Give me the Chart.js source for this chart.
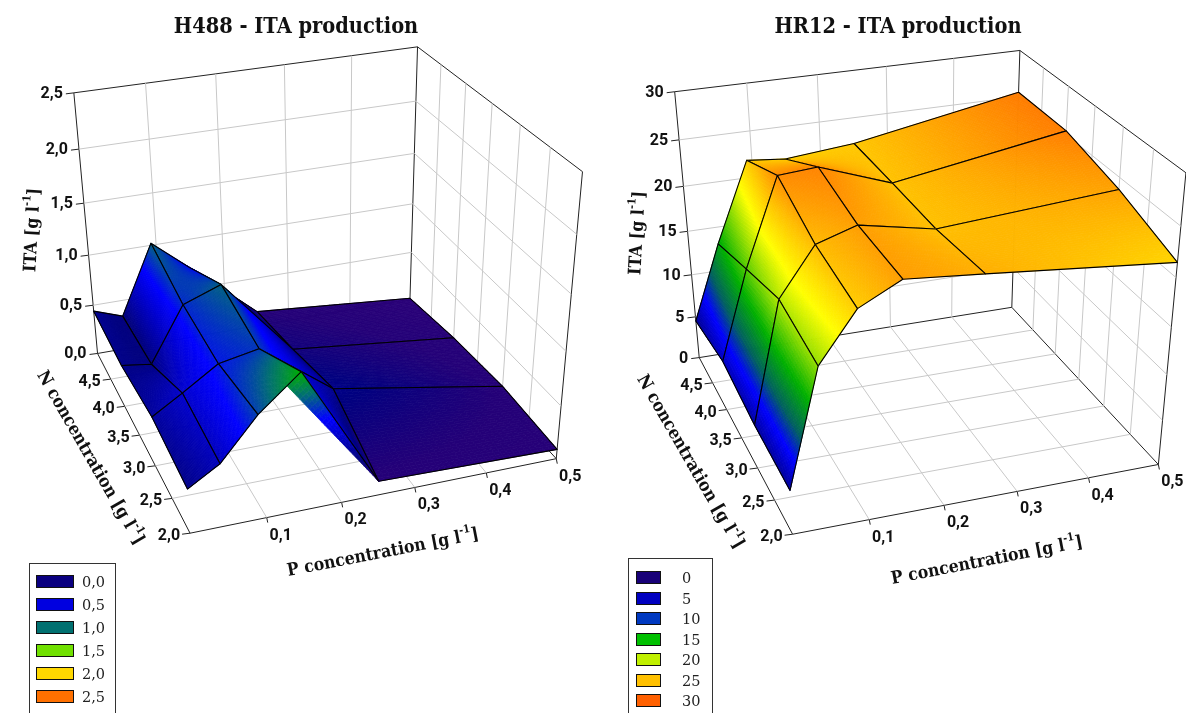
<!DOCTYPE html>
<html>
<head>
<meta charset="utf-8">
<title>ITA production</title>
<script src="https://cdn.jsdelivr.net/npm/chart.js@4"></script>
<style>
  html, body { margin: 0; background: #fff; overflow: hidden; }
  #page { position: relative; width: 1186px; height: 713px; overflow: hidden; }
  canvas { position: absolute; top: 0; }
  .legend { position: absolute; box-sizing: border-box; border: 1px solid #333; border-bottom: none; bottom: 0;
            font: 14.5px "DejaVu Serif", serif; color: #222; }
  .legend i { position: absolute; box-sizing: border-box; border: 1px solid #111; }
  .legend span { position: absolute; line-height: 16px; }
</style>
</head>
<body>
<div id="page">
  <canvas id="chartH488" width="592" height="713" style="left:0"></canvas>
  <canvas id="chartHR12" width="576" height="713" style="left:610px"></canvas>
</div>
<script>
// grid of the measured surface
const pValues = [0, 0.0425, 0.0925, 0.148, 0.25, 0.5];
const nValues = [2, 3, 4, 5];

// ITA, one row per N value
const h488N2 = [0.41, 0.58, 0.95, 1.25, 0.13, 0.09];
const h488N3 = [0.47, 0.64, 0.85, 0.92, 0.42, 0.13];
const h488N4 = [0.41, 0.37, 0.89, 1.02, 0.27, 0.09];
const h488N5 = [0.44, 0.34, 1.02, 0.72, 0.15, 0.01];

const hr12N2 = [4.8, 17.0, 21.9, 24.0, 23.3, 21.5];
const hr12N3 = [4.9, 17.8, 22.7, 24.0, 22.5, 23.8];
const hr12N4 = [5.7, 15.5, 24.8, 25.1, 22.4, 25.4];
const hr12N5 = [4.5, 13.1, 21.9, 21.5, 22.2, 25.5];

// thin fold under the H488 ridge, in the N = 2 plane
const h488FoldP = [0.13, 0.148, 0.25];
const h488FoldZ = [1.15, 1.25, 0.13];

// axis ticks
const pTicks = [0.1, 0.2, 0.3, 0.4, 0.5];
const nTicks = [2, 2.5, 3, 3.5, 4, 4.5];
const zTicksH488 = [0, 0.5, 1, 1.5, 2, 2.5];
const zTicksHR12 = [0, 5, 10, 15, 20, 25, 30];

// legends
const legendH488Labels = ['0,0', '0,5', '1,0', '1,5', '2,0', '2,5'];
const legendH488Colors = ['#0a0080', '#0000e0', '#007070', '#70e000', '#ffd800', '#ff7000'];
const legendHR12Labels = ['0', '5', '10', '15', '20', '25', '30'];
const legendHR12Colors = ['#180078', '#0000c0', '#0038c0', '#00c000', '#c0f000', '#ffc000', '#ff6000'];

// colour ramp of the surface
const rampH488Z = [0, 0.15, 0.38, 0.8, 1.05, 1.25, 1.5, 2, 2.5];
const rampH488C = ['#2a0078', '#240078', '#000080', '#0000ff', '#007070', '#00b000', '#70e000', '#ffd800', '#ff7000'];
const rampHR12Z = [0, 4, 7.5, 10, 13.5, 19.5, 22.5, 26, 30];
const rampHR12C = ['#180078', '#000080', '#0000ff', '#006060', '#00b000', '#ffff00', '#ffc000', '#ff7000', '#ff6000'];

const tickFont = 'bold 16px Roboto, sans-serif';
const titleFamily = '"DejaVu Serif Condensed", "DejaVu Serif", serif';

function fmt(v) { return v.toFixed(1).replace('.', ','); }

function hexToRgb(h) {
  return [parseInt(h.slice(1, 3), 16), parseInt(h.slice(3, 5), 16), parseInt(h.slice(5, 7), 16)];
}

function rampColor(z, zs, cs) {
  if (z <= zs[0]) return cs[0];
  for (let i = 1; i < zs.length; i++) {
    if (z <= zs[i]) {
      const f = (z - zs[i - 1]) / (zs[i] - zs[i - 1]);
      const a = hexToRgb(cs[i - 1]), b = hexToRgb(cs[i]);
      return `rgb(${a[0] + (b[0] - a[0]) * f},${a[1] + (b[1] - a[1]) * f},${a[2] + (b[2] - a[2]) * f})`;
    }
  }
  return cs[cs.length - 1];
}

// least squares fit of a 3x4 camera matrix to reference spots on the box
function fitCamera(spots) {
  const A = [], B = [];
  spots.forEach(([u, v, w, x, y]) => {
    A.push([u, v, w, 1, 0, 0, 0, 0, -x * u, -x * v, -x * w]); B.push(x);
    A.push([0, 0, 0, 0, u, v, w, 1, -y * u, -y * v, -y * w]); B.push(y);
  });
  const n = 11;
  const M = [];
  for (let i = 0; i < n; i++) {
    M.push([]);
    for (let j = 0; j < n; j++) {
      M[i][j] = A.reduce((s, r) => s + r[i] * r[j], 0);
    }
    M[i][n] = A.reduce((s, r, k) => s + r[i] * B[k], 0);
  }
  for (let i = 0; i < n; i++) {
    let best = i;
    for (let k = i + 1; k < n; k++) if (Math.abs(M[k][i]) > Math.abs(M[best][i])) best = k;
    [M[i], M[best]] = [M[best], M[i]];
    for (let k = 0; k < n; k++) {
      if (k === i) continue;
      const f = M[k][i] / M[i][i];
      for (let j = i; j <= n; j++) M[k][j] -= f * M[i][j];
    }
  }
  return M.map((r, i) => r[n] / r[i]);
}

function makeChart(cfg) {
  const cam = fitCamera(cfg.spots);
  const zMax = cfg.zTicks[cfg.zTicks.length - 1];

  // P, N, ITA -> coordinates of the hidden x/y scales
  function project(p, n, z) {
    const u = p / 0.5, v = (n - 2) / 3, w = z / zMax;
    const d = cam[8] * u + cam[9] * v + cam[10] * w + 1;
    return {
      x: (cam[0] * u + cam[1] * v + cam[2] * w + cam[3]) / d,
      y: (cam[4] * u + cam[5] * v + cam[6] * w + cam[7]) / d
    };
  }

  const datasets = [];
  function addLine(a, b, color) {
    datasets.push({ data: [a, b], showLine: true, borderColor: color, borderWidth: 1, pointRadius: 0, clip: false });
  }
  const gridColor = '#c8c8c8', axisColor = '#222';

  // grid on floor and walls
  pTicks.slice(0, -1).forEach(p => {
    addLine(project(p, 2, 0), project(p, 5, 0), gridColor);
    addLine(project(p, 5, 0), project(p, 5, zMax), gridColor);
  });
  nTicks.slice(1).forEach(n => {
    addLine(project(0, n, 0), project(0.5, n, 0), gridColor);
    addLine(project(0.5, n, 0), project(0.5, n, zMax), gridColor);
  });
  cfg.zTicks.slice(1, -1).forEach(z => {
    addLine(project(0, 5, z), project(0.5, 5, z), gridColor);
    addLine(project(0.5, 5, z), project(0.5, 2, z), gridColor);
  });

  // box edges
  addLine(project(0, 2, 0), project(0.5, 2, 0), axisColor);
  addLine(project(0, 2, 0), project(0, 5, 0), axisColor);
  addLine(project(0, 5, 0), project(0.5, 5, 0), axisColor);
  addLine(project(0.5, 5, 0), project(0.5, 2, 0), axisColor);
  addLine(project(0, 5, 0), project(0, 5, zMax), axisColor);
  addLine(project(0.5, 5, 0), project(0.5, 5, zMax), axisColor);
  addLine(project(0.5, 2, 0), project(0.5, 2, zMax), axisColor);
  addLine(project(0, 5, zMax), project(0.5, 5, zMax), axisColor);
  addLine(project(0.5, 5, zMax), project(0.5, 2, zMax), axisColor);

  // tick marks
  function offset(pt, dx, dy) { return { x: pt.x + dx, y: pt.y + dy }; }
  pTicks.forEach(p => { const a = project(p, 2, 0); addLine(a, offset(a, 1, 5), axisColor); });
  nTicks.forEach(n => { const a = project(0, n, 0); addLine(a, offset(a, -8, 1), axisColor); });
  cfg.zTicks.forEach(z => { const a = project(0, 5, z); addLine(a, offset(a, -8, 1), axisColor); });

  const surfacePlugin = {
    id: 'surface',
    afterDatasetsDraw(chart) {
      const ctx = chart.ctx, sx = chart.scales.x, sy = chart.scales.y;
      const px = pt => [sx.getPixelForValue(pt.x), sy.getPixelForValue(pt.y)];
      const steps = 30;
      function patch(a, b, c, d, z) {
        const col = rampColor(z, cfg.rampZ, cfg.rampC);
        ctx.fillStyle = col;
        ctx.strokeStyle = col;
        ctx.lineWidth = 0.8;
        ctx.beginPath();
        ctx.moveTo(...px(a));
        ctx.lineTo(...px(b));
        ctx.lineTo(...px(c));
        ctx.lineTo(...px(d));
        ctx.closePath();
        ctx.fill();
        ctx.stroke();
      }
      ctx.save();
      ctx.lineJoin = 'round';
      for (let j = nValues.length - 2; j >= 0; j--) {
        for (let i = pValues.length - 2; i >= 0; i--) {
          const p0 = pValues[i], p1 = pValues[i + 1], n0 = nValues[j], n1 = nValues[j + 1];
          const z00 = cfg.rows[j][i], z10 = cfg.rows[j][i + 1], z01 = cfg.rows[j + 1][i], z11 = cfg.rows[j + 1][i + 1];
          const zAt = (a, b) => z00 * (1 - a) * (1 - b) + z10 * a * (1 - b) + z01 * (1 - a) * b + z11 * a * b;
          const at = (a, b) => project(p0 + (p1 - p0) * a, n0 + (n1 - n0) * b, zAt(a, b));
          for (let b = steps - 1; b >= 0; b--) {
            for (let a = steps - 1; a >= 0; a--) {
              const a0 = a / steps, a1 = (a + 1) / steps, b0 = b / steps, b1 = (b + 1) / steps;
              patch(at(a0, b0), at(a1, b0), at(a1, b1), at(a0, b1), zAt((a0 + a1) / 2, (b0 + b1) / 2));
            }
          }
          ctx.strokeStyle = '#000';
          ctx.lineWidth = 1.1;
          ctx.beginPath();
          ctx.moveTo(...px(at(0, 0)));
          ctx.lineTo(...px(at(1, 0)));
          ctx.lineTo(...px(at(1, 1)));
          ctx.lineTo(...px(at(0, 1)));
          ctx.closePath();
          ctx.stroke();

          if (cfg.foldP && j === 0 && i === 3) {
            // fold goes on top of this cell and under the next one
            const [pE, pD, pC] = cfg.foldP, [zE, zD, zC] = cfg.foldZ;
            const edge = b => [pD + (pE - pD) * b, zD + (zE - zD) * b];
            const fp = (a, b) => {
              const e = edge(b);
              return [pC + (e[0] - pC) * a, zC + (e[1] - zC) * a];
            };
            const pt = (a, b) => { const q = fp(a, b); return project(q[0], 2, q[1]); };
            for (let a = 0; a < steps; a++) {
              for (let b = 0; b < 4; b++) {
                const a0 = a / steps, a1 = (a + 1) / steps, b0 = b / 4, b1 = (b + 1) / 4;
                patch(pt(a0, b0), pt(a1, b0), pt(a1, b1), pt(a0, b1), fp((a0 + a1) / 2, (b0 + b1) / 2)[1]);
              }
            }
            ctx.strokeStyle = '#000';
            ctx.lineWidth = 1.1;
            ctx.beginPath();
            ctx.moveTo(...px(project(pD, 2, zD)));
            ctx.lineTo(...px(project(pC, 2, zC)));
            ctx.stroke();
          }
        }
      }
      ctx.restore();
    },
    afterDraw(chart) {
      const ctx = chart.ctx, sx = chart.scales.x, sy = chart.scales.y;
      const X = v => sx.getPixelForValue(v), Y = v => sy.getPixelForValue(v);
      ctx.save();
      ctx.fillStyle = '#111';
      ctx.font = tickFont;
      ctx.textBaseline = 'middle';
      ctx.textAlign = 'center';
      pTicks.forEach(p => {
        const a = project(p, 2, 0);
        ctx.fillText(fmt(p), X(a.x) + 14, Y(a.y) + 18);
      });
      ctx.textAlign = 'right';
      nTicks.forEach(n => {
        const a = project(0, n, 0);
        ctx.fillText(fmt(n), X(a.x) - 10, Y(a.y) + 3);
      });
      cfg.zTicks.forEach(z => {
        const a = project(0, 5, z);
        ctx.fillText(cfg.zFormat(z), X(a.x) - 11, Y(a.y) + 1);
      });
      cfg.axisTitles.forEach(t => {
        ctx.save();
        ctx.translate(X(t.x), Y(t.y));
        ctx.rotate(t.angle * Math.PI / 180);
        const mainFont = `bold 17.5px ${titleFamily}`, supFont = `bold 11px ${titleFamily}`;
        ctx.font = mainFont;
        const w1 = ctx.measureText(t.text).width, w2 = ctx.measureText(']').width;
        ctx.font = supFont;
        const w3 = ctx.measureText('-1').width;
        let cur = -(w1 + w2 + w3) / 2;
        ctx.textAlign = 'left';
        ctx.font = mainFont;
        ctx.fillText(t.text, cur, 0);
        cur += w1;
        ctx.font = supFont;
        ctx.fillText('-1', cur, -7);
        cur += w3;
        ctx.font = mainFont;
        ctx.fillText(']', cur, 0);
        ctx.restore();
      });
      ctx.restore();
    }
  };

  return new Chart(document.getElementById(cfg.canvas), {
    type: 'scatter',
    data: { datasets },
    plugins: [surfacePlugin],
    options: {
      responsive: false,
      animation: false,
      devicePixelRatio: 1,
      layout: { padding: 0 },
      plugins: {
        legend: { display: false },
        tooltip: { enabled: false },
        title: {
          display: true,
          text: cfg.title,
          color: '#111',
          font: { family: titleFamily, size: 21.6, weight: 'bold', lineHeight: 1 },
          padding: { top: 16.5, bottom: 11.9 }
        }
      },
      scales: {
        x: { type: 'linear', display: false, min: cfg.xMin, max: cfg.xMax },
        y: { type: 'linear', display: false, reverse: true, min: 50, max: 713 }
      }
    }
  });
}

makeChart({
  canvas: 'chartH488',
  title: 'H488 - ITA production',
  xMin: 0, xMax: 592,
  rows: [h488N2, h488N3, h488N4, h488N5],
  foldP: h488FoldP, foldZ: h488FoldZ,
  zTicks: zTicksH488,
  zFormat: fmt,
  rampZ: rampH488Z, rampC: rampH488C,
  spots: [
    // floor corners, top edges, then tick positions along the axes
    [0, 1, 0, 98, 355], [0, 1, 0, 98, 355], [0, 1, 0, 98, 355],
    [1, 1, 0, 410, 292], [1, 0, 0, 556, 461], [0, 0, 0, 192, 530],
    [0, 1, 1, 75.7, 90], [1, 1, 1, 419, 50], [1, 0, 1, 583, 170],
    [0.2, 1, 1, 142.7, 82], [0.4, 1, 1, 214, 73], [0.6, 1, 1, 284, 66], [0.8, 1, 1, 352, 58],
    [0.2, 0, 0, 266, 518], [0.4, 0, 0, 341, 503], [0.6, 0, 0, 415, 489], [0.8, 0, 0, 486, 474],
    [0, 1, 0.2, 93, 307], [0, 1, 0.4, 88.5, 255], [0, 1, 0.6, 84, 203], [0, 1, 0.8, 80, 148],
    [0, 1 / 6, 0, 172, 497], [0, 2 / 6, 0, 155, 465], [0, 3 / 6, 0, 140, 435], [0, 4 / 6, 0, 124, 407], [0, 5 / 6, 0, 110, 380]
  ],
  axisTitles: [
    { text: 'P concentration [g l', x: 383, y: 553, angle: -11 },
    { text: 'N concentration [g l', x: 90, y: 458, angle: 60 },
    { text: 'ITA [g l', x: 33, y: 230, angle: -87 }
  ]
});

makeChart({
  canvas: 'chartHR12',
  title: 'HR12 - ITA production',
  xMin: 610, xMax: 1186,
  rows: [hr12N2, hr12N3, hr12N4, hr12N5],
  zTicks: zTicksHR12,
  zFormat: v => String(v),
  rampZ: rampHR12Z, rampC: rampHR12C,
  spots: [
    [0, 1, 0, 700, 358], [1, 1, 0, 1012, 307], [1, 0, 0, 1158, 463], [0, 0, 0, 795, 534],
    [0, 1, 1, 677, 91], [1, 1, 1, 1021, 51], [1, 0, 1, 1186, 173],
    [0.2, 1, 1, 743, 83], [0.4, 1, 1, 816, 74], [0.6, 1, 1, 886, 67], [0.8, 1, 1, 954, 59],
    [0.2, 0, 0, 867, 520], [0.4, 0, 0, 943, 507], [0.6, 0, 0, 1017, 492], [0.8, 0, 0, 1090, 477],
    [0, 1, 1 / 6, 696, 317], [0, 1, 2 / 6, 692, 275], [0, 1, 3 / 6, 688, 232], [0, 1, 4 / 6, 684, 186], [0, 1, 5 / 6, 680, 139],
    [0, 1 / 6, 0, 777, 500], [0, 2 / 6, 0, 757, 468], [0, 3 / 6, 0, 740, 438], [0, 4 / 6, 0, 725, 409], [0, 5 / 6, 0, 712, 383]
  ],
  axisTitles: [
    { text: 'P concentration [g l', x: 987, y: 561, angle: -11 },
    { text: 'N concentration [g l', x: 690, y: 462, angle: 60 },
    { text: 'ITA [g l', x: 638, y: 233, angle: -87 }
  ]
});

// the two legend boxes, cut off by the bottom of the page as in the original
function makeLegend(labels, colors, box) {
  const el = document.createElement('div');
  el.className = 'legend';
  el.style.left = box.left + 'px';
  el.style.top = box.top + 'px';
  el.style.width = box.width + 'px';
  labels.forEach((t, i) => {
    const sw = document.createElement('i');
    sw.style.cssText = `left:${box.swatchX}px;top:${box.firstY + i * box.step}px;width:${box.swatchW}px;height:13px;background:${colors[i]}`;
    const tx = document.createElement('span');
    tx.style.cssText = `left:${box.textX}px;top:${box.firstY + i * box.step - 1}px`;
    tx.textContent = t;
    el.appendChild(sw);
    el.appendChild(tx);
  });
  document.getElementById('page').appendChild(el);
}
makeLegend(legendH488Labels, legendH488Colors, { left: 29, top: 563, width: 87, swatchX: 6, swatchW: 38, textX: 52, firstY: 11, step: 23 });
makeLegend(legendHR12Labels, legendHR12Colors, { left: 628, top: 558, width: 85, swatchX: 7, swatchW: 25, textX: 53, firstY: 12, step: 20.5 });
</script>
</body>
</html>
